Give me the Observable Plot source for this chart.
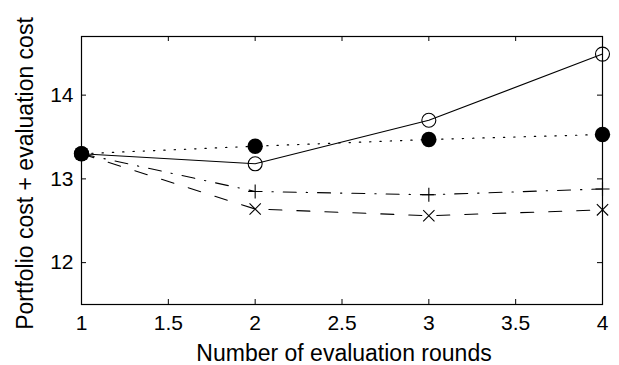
<!DOCTYPE html>
<html><head><meta charset="utf-8">
<script src="https://cdn.jsdelivr.net/npm/d3@7"></script>
<script src="https://cdn.jsdelivr.net/npm/@observablehq/plot@0.6"></script>
<style>html,body{margin:0;padding:0;background:#fff} svg{display:block}</style>
</head><body><div id="chart"></div>
<script>
// Data
const rounds = [1, 2, 3, 4];
const solidOpen = [13.30, 13.18, 13.70, 14.49];
const dottedFilled = [13.30, 13.39, 13.47, 13.53];
const dashDotPlus = [13.30, 12.85, 12.81, 12.88];
const dashedTimes = [13.30, 12.64, 12.56, 12.63];
const xTicks = [1, 1.5, 2, 2.5, 3, 3.5, 4];
const yTicks = [12, 13, 14];
const xLabel = "Number of evaluation rounds";
const yLabel = "Portfolio cost + evaluation cost";

const W = 619, H = 365;
const mL = 81, mR = 17, mT = 36, mB = 61;
const iw = W - mL - mR, ih = H - mT - mB;
const tl = 5;

const rows = (vals) => rounds.map((x, i) => ({x, y: vals[i]}));
const sSolid = rows(solidOpen), sDot = rows(dottedFilled), sDD = rows(dashDotPlus), sDash = rows(dashedTimes);

const chart = Plot.plot({
  width: W, height: H,
  marginLeft: mL, marginRight: mR, marginTop: mT, marginBottom: mB,
  style: {fontFamily: "'Liberation Sans', Arial, Helvetica, sans-serif", background: "#fff", color: "#000"},
  x: {domain: [1, 4]},
  y: {domain: [11.5, 14.7]},
  marks: [
    Plot.frame({stroke: "#000", strokeWidth: 1.2}),
    Plot.tickX(xTicks, {x: d => d, insetBottom: ih - tl, stroke: "#000"}),
    Plot.tickX(xTicks, {x: d => d, insetTop: ih - tl, stroke: "#000"}),
    Plot.tickY(yTicks, {y: d => d, insetRight: iw - tl, stroke: "#000"}),
    Plot.tickY(yTicks, {y: d => d, insetLeft: iw - tl, stroke: "#000"}),
    Plot.axisX(xTicks, {tickSize: 0, tickPadding: 11, fontSize: 21, label: null, tickFormat: d => String(d)}),
    Plot.axisY(yTicks, {tickSize: 0, tickPadding: 8, fontSize: 21, label: null, tickFormat: d => String(d)}),
    Plot.text([xLabel], {frameAnchor: "bottom", dy: 49, text: d => d, fontSize: 23, lineAnchor: "middle", textAnchor: "middle", dx: 2}),
    Plot.text([yLabel], {frameAnchor: "left", dx: -56, dy: 3, rotate: -90, text: d => d, fontSize: 23, lineAnchor: "middle", textAnchor: "middle"}),
    // solid line with open circles
    Plot.line(sSolid, {x: "x", y: "y", stroke: "#000", strokeWidth: 1.1}),
    Plot.dot(sSolid, {x: "x", y: "y", r: 7, stroke: "#000", fill: "none", strokeWidth: 1.1}),
    // dotted line with filled circles
    Plot.line(sDot, {x: "x", y: "y", stroke: "#000", strokeWidth: 1.2, strokeDasharray: "1.3,9"}),
    Plot.dot(sDot, {x: "x", y: "y", r: 7.7, fill: "#000", stroke: "none"}),
    // dash-dot line with plus markers
    Plot.line(sDD, {x: "x", y: "y", stroke: "#000", strokeWidth: 1.1, strokeDasharray: "13,10,1.3,10"}),
    Plot.dot(sDD, {x: "x", y: "y", symbol: "plus", r: 4.6, stroke: "#000", strokeWidth: 1.1}),
    // dashed line with times markers
    Plot.line(sDash, {x: "x", y: "y", stroke: "#000", strokeWidth: 1.1, strokeDasharray: "13,15"}),
    Plot.dot(sDash, {x: "x", y: "y", symbol: "times", r: 5.2, stroke: "#000", strokeWidth: 1.1})
  ]
});
document.getElementById("chart").appendChild(chart);
</script>
</body></html>
